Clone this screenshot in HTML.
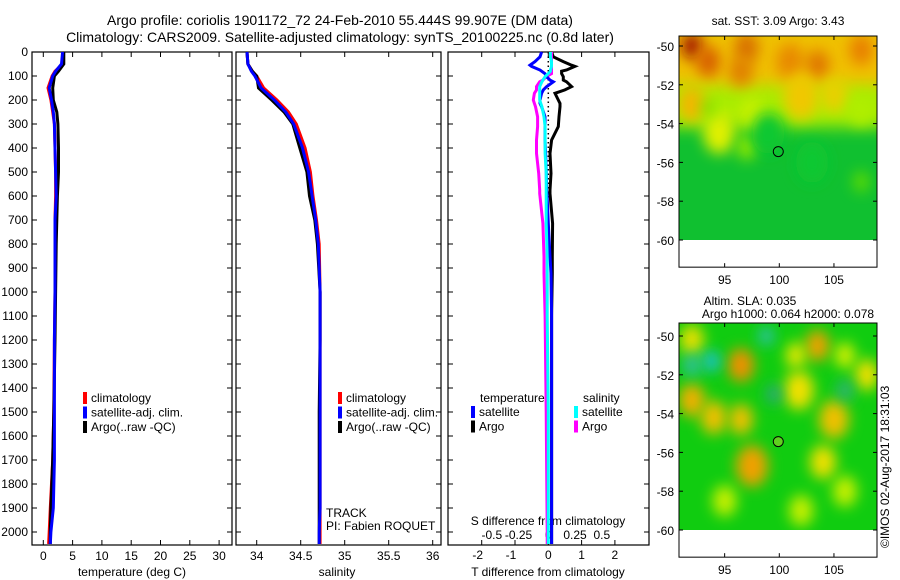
<!DOCTYPE html>
<html><head><meta charset="utf-8"><style>
body{margin:0;background:#fff}
svg{display:block;font-family:"Liberation Sans",sans-serif}
text{fill:#000}
</style></head><body>
<svg id="c" width="900" height="580" viewBox="0 0 900 580" xmlns="http://www.w3.org/2000/svg">
<defs>
<filter id="bl" x="-50%" y="-50%" width="200%" height="200%"><feGaussianBlur stdDeviation="8"/></filter>
<filter id="bl2" x="-80%" y="-80%" width="260%" height="260%"><feGaussianBlur stdDeviation="7"/></filter>
<clipPath id="m1"><rect x="679" y="36" width="198" height="204"/></clipPath>
<clipPath id="m2"><rect x="679" y="323" width="198" height="207"/></clipPath>
</defs>
<text x="340" y="25" font-size="14" text-anchor="middle">Argo profile: coriolis 1901172_72 24-Feb-2010 55.444S 99.907E (DM data)</text>
<text x="340" y="42" font-size="14" text-anchor="middle">Climatology: CARS2009. Satellite-adjusted climatology: synTS_20100225.nc (0.8d later)</text>
<g id="g"></g>
</svg>
<script>
// ---- data ----
const depths = [0,50,80,100,150,200,250,300,400,500,600,700,800,1000,1200,1500,1700,1900,2000,2050];
const tempClim = [3.4,3.3,2.0,1.5,0.8,1.3,1.6,1.9,2.0,2.1,2.1,2.0,2.0,2.0,1.9,1.8,1.6,1.2,1.0,0.9];
const tempSat  = [3.3,3.1,2.1,1.6,1.0,1.4,1.7,1.9,2.0,2.1,2.2,2.0,2.0,2.0,1.9,1.9,1.9,1.7,1.3,1.2];
const tempArgo = [3.5,3.5,2.6,1.9,1.6,1.7,2.3,2.5,2.6,2.6,2.4,2.3,2.2,2.1,2.0,1.8,1.6,1.3,1.2,1.2];
const salClim = [33.89,33.9,33.95,34.0,34.08,34.23,34.36,34.45,34.55,34.61,34.64,34.68,34.71,34.72,34.72,34.72,34.72,34.72,34.72,34.72];
const salSat  = [33.89,33.9,33.94,33.98,34.05,34.2,34.33,34.42,34.52,34.59,34.63,34.67,34.70,34.72,34.72,34.72,34.72,34.72,34.71,34.71];
const salArgo = [33.89,33.9,33.95,34.0,34.02,34.17,34.31,34.41,34.49,34.57,34.6,34.66,34.69,34.72,34.72,34.71,34.71,34.71,34.71,34.71];
const diffDepths = [0,20,40,55,60,75,80,90,103,117,124,144,158,172,200,214,228,270,311,367,422,506,575,590,714,853,922,1100,1500,2000,2050];
const tDiffSat  = [-0.2,-0.25,-0.4,-0.55,-0.5,-0.25,-0.2,-0.1,-0.05,0.05,0.15,-0.05,-0.15,-0.2,-0.25,-0.25,-0.2,-0.1,-0.1,-0.1,-0.08,-0.06,-0.05,-0.04,0.0,0.05,0.08,0.1,0.1,0.1,0.1];
const tDiffArgo = [0.1,0.15,0.45,0.7,0.8,0.55,0.4,0.4,0.45,0.45,0.55,0.7,0.5,0.2,0.3,0.35,0.35,0.32,0.3,0.1,0.05,0.08,0.05,0.05,0.13,0.12,0.12,0.1,0.1,0.1,0.1];
const sDiffSat  = [0.02,0.02,0.03,0.03,0.03,0.02,0.02,0.0,-0.03,-0.05,-0.06,-0.08,-0.08,-0.08,-0.08,-0.07,-0.06,-0.04,-0.03,-0.03,-0.03,-0.02,-0.02,-0.02,-0.02,-0.01,-0.01,-0.01,0.0,0.0,0.0];
const sDiffArgo = [0.03,0.03,0.03,0.03,0.03,0.03,0.03,0.03,-0.02,-0.05,-0.08,-0.11,-0.11,-0.13,-0.14,-0.13,-0.12,-0.1,-0.1,-0.11,-0.11,-0.09,-0.08,-0.08,-0.05,-0.04,-0.04,-0.03,-0.02,-0.01,-0.01];
const depthTicks = [0,100,200,300,400,500,600,700,800,900,1000,1100,1200,1300,1400,1500,1600,1700,1800,1900,2000];
const tempTicks = [0,5,10,15,20,25,30];
const salTicks = [34,34.5,35,35.5,36];
const tDiffTicks = [-2,-1,0,1,2];
const sDiffTicks = [-0.5,-0.25,0,0.25,0.5];
const lonTicks = [95,100,105];
const latTicks = [-50,-52,-54,-56,-58,-60];
const floatLon = 99.907, floatLat = -55.444;

// ---- scales ----
const yD = d => 52 + d*0.24;
const xT = t => 43.3 + t*5.86;
const xS = s => 256.7 + (s-34)*88;
const xTd = t => 548.3 + t*33.3;
const xSd = s => 548.3 + s*107;
const lonX = l => 779.3 + (l-100)*10.93;
const lat1 = l => 46 + (-50-l)*19.4;
const lat2 = l => 336 + (-50-l)*19.4;

const g = document.getElementById('g');
const NS='http://www.w3.org/2000/svg';
function mk(tag, attrs, parent){const e=document.createElementNS(NS,tag);for(const k in attrs)e.setAttribute(k,attrs[k]);(parent||g).appendChild(e);return e;}
function txt(x,y,s,anchor,size){const e=mk('text',{x:x,y:y,'font-size':size||12,'text-anchor':anchor||'start'});e.textContent=s;return e;}
function line(xs, ys, sx, color, w, name){
  const pts = xs.map((v,i)=>sx(v).toFixed(1)+','+yD(ys[i]).toFixed(1)).join(' ');
  const e = mk('polyline',{points:pts,fill:'none',stroke:color,'stroke-width':w||3,'stroke-linejoin':'miter'});
  
  
  return e;
}
function frame(x0,x1,name){
  const e=mk('rect',{x:x0,y:52,width:x1-x0,height:493,fill:'none',stroke:'#000','stroke-width':1.2});
  
  
  depthTicks.forEach(d=>{mk('line',{x1:x0,y1:yD(d),x2:x0+5,y2:yD(d),stroke:'#000'});mk('line',{x1:x1,y1:yD(d),x2:x1-5,y2:yD(d),stroke:'#000'});});
}
// panel 1
frame(32,232,'temperature-panel');
depthTicks.forEach(d=>{const t=txt(28,yD(d)+4,String(d),'end');});
tempTicks.forEach(v=>{mk('line',{x1:xT(v),y1:545,x2:xT(v),y2:540,stroke:'#000'});mk('line',{x1:xT(v),y1:52,x2:xT(v),y2:57,stroke:'#000'});const t=txt(xT(v),560,String(v),'middle');});
txt(132,576,'temperature (deg C)','middle');
line(tempClim,depths,xT,'#f00',3,'temp-climatology-line');
line(tempArgo,depths,xT,'#000',3,'temp-argo-line');
line(tempSat,depths,xT,'#00f',3,'temp-satellite-line');
// panel 2
frame(236,441,'salinity-panel');
salTicks.forEach(v=>{mk('line',{x1:xS(v),y1:545,x2:xS(v),y2:540,stroke:'#000'});mk('line',{x1:xS(v),y1:52,x2:xS(v),y2:57,stroke:'#000'});const t=txt(xS(v),560,String(v),'middle');});
txt(337,576,'salinity','middle');
line(salClim,depths,xS,'#f00',3,'sal-climatology-line');
line(salArgo,depths,xS,'#000',3,'sal-argo-line');
line(salSat,depths,xS,'#00f',3,'sal-satellite-line');
txt(326,517,'TRACK');
txt(326,530,'PI: Fabien ROQUET');
// legends
function legend(x,y,items,prefix){items.forEach((it,i)=>{const r=mk('rect',{x:x,y:y+i*14.5-10,width:4,height:12,fill:it[0]});const t=txt(x+8,y+i*14.5,it[1]);});}
legend(83,402,[['#f00','climatology'],['#00f','satellite-adj. clim.'],['#000','Argo(..raw -QC)']],'temp');
legend(338,402,[['#f00','climatology'],['#00f','satellite-adj. clim.'],['#000','Argo(..raw -QC)']],'sal');
// panel 3
frame(448,649,'difference-panel');
tDiffTicks.forEach(v=>{mk('line',{x1:xTd(v),y1:545,x2:xTd(v),y2:540,stroke:'#000'});mk('line',{x1:xTd(v),y1:52,x2:xTd(v),y2:57,stroke:'#000'});txt(xTd(v)-(v<0?4:0),559,String(v),'middle');});
sDiffTicks.forEach(v=>{txt(xSd(v)-(v<0?3:0),539,String(v),'middle');});
txt(548,525,'S difference from climatology','middle');
txt(548,576,'T difference from climatology','middle');
mk('line',{x1:548.3,y1:52,x2:548.3,y2:200,stroke:'#000','stroke-dasharray':'1.5,3','stroke-width':1.5});
line(tDiffArgo,diffDepths,xTd,'#000',3,'t-diff-argo-line');
line(sDiffArgo,diffDepths,xSd,'#f0f',3,'s-diff-argo-line');
line(tDiffSat,diffDepths,xTd,'#00f',3,'t-diff-satellite-line');
line(sDiffSat,diffDepths,xSd,'#0ff',3,'s-diff-satellite-line');
txt(480,402,'temperature');
txt(583,402,'salinity');
legend(471,416,[['#00f','satellite'],['#000','Argo']],'tdiff');
legend(574,416,[['#0ff','satellite'],['#f0f','Argo']],'sdiff');

// maps
const sstBlobs = [[92,-50,'#a01000',10],[93.5,-50.8,'#d86000',12],[97,-50.1,'#d87000',12],[96.5,-51.3,'#e08000',12],[101,-50.8,'#e88a00',14],[103.5,-51,'#e07800',12],[107.5,-50.2,'#e88000',12],[92,-53,'#f0b800',14],[94.5,-54.5,'#e0f000',16],[97.5,-53.5,'#c8f000',12],[102,-52.6,'#f0c800',18],[105,-52.5,'#e8d000',14],[107.5,-53.3,'#b0ee00',12],[97,-55.2,'#90e800',10],[93.5,-53.2,'#70e000',6],[107.5,-57,'#60dc00',8],[99,-54.5,'#10c830',16],[103,-56,'#10c830',16]];
const slaBlobs = [[92,-50.2,'#e8e000',12],[96.5,-51.5,'#f09000',13],[103.5,-50.5,'#f0a000',12],[92,-53.3,'#f0b000',13],[94,-54.2,'#f0c000',13],[96.5,-54.3,'#f0c000',12],[97.5,-56.7,'#f0a000',16],[101.8,-52.8,'#f0e000',15],[101.5,-51,'#e8e800',10],[105,-54.3,'#f0c000',15],[104,-56.5,'#f0e000',13],[108,-52,'#f0e000',12],[95,-58.5,'#c8f000',12],[102,-59,'#c8f000',12],[106,-58,'#c8f000',12],[106,-51,'#d8f000',10],[93.8,-51.3,'#20c0e0',8],[92,-51.5,'#30c0a0',9],[98.8,-50,'#30c0c0',7],[99.5,-53,'#30a090',7],[106,-52.8,'#30b080',8]];
function map(y0,latF,clip,base,blobs,name,circleFill){
  const gm = mk('g',{'clip-path':'url(#'+clip+')'});
  
  
  mk('rect',{x:679,y:y0,width:198,height:latF(-60)-y0,fill:base},gm);
  if(name==='sst-map'){mk('rect',{x:660,y:y0-10,width:240,height:latF(-54.2)-y0+10,fill:'#a8ec00',filter:'url(#bl)'},gm);mk('rect',{x:660,y:y0-10,width:240,height:latF(-52)-y0+10,fill:'#f0c000',filter:'url(#bl)'},gm);}
  blobs.forEach(b=>{mk('ellipse',{cx:lonX(b[0]),cy:latF(b[1]),rx:b[3],ry:b[3]*1.3,fill:b[2],filter:'url(#bl2)'},gm);});
  mk('rect',{x:679,y:y0,width:198,height:(latF(-61.4))-y0,fill:'none',stroke:'#000','stroke-width':1});
  const yb=latF(-61.4);
  lonTicks.forEach(l=>{mk('line',{x1:lonX(l),y1:yb,x2:lonX(l),y2:yb-4,stroke:'#000'});mk('line',{x1:lonX(l),y1:y0,x2:lonX(l),y2:y0+4,stroke:'#000'});txt(lonX(l),yb+17,String(l),'middle');});
  latTicks.forEach(l=>{mk('line',{x1:679,y1:latF(l),x2:683,y2:latF(l),stroke:'#000'});mk('line',{x1:877,y1:latF(l),x2:873,y2:latF(l),stroke:'#000'});txt(674,latF(l)+5,String(l),'end');});
  const c=mk('circle',{cx:lonX(floatLon),cy:latF(floatLat),r:5,fill:circleFill,stroke:'#000','stroke-width':1});
  
  
}
map(36,lat1,'m1','#10c030',sstBlobs,'sst-map','none');
map(323,lat2,'m2','#10cc10',slaBlobs,'sla-map','#60d020');
txt(778,25,'sat. SST: 3.09 Argo: 3.43','middle');
txt(750,305,'Altim. SLA: 0.035','middle');
txt(788,318,'Argo h1000: 0.064 h2000: 0.078','middle');
const st=txt(0,0,'©IMOS 02-Aug-2017 18:31:03','start');
st.setAttribute('transform','translate(889,548) rotate(-90)');


</script>
</body></html>
